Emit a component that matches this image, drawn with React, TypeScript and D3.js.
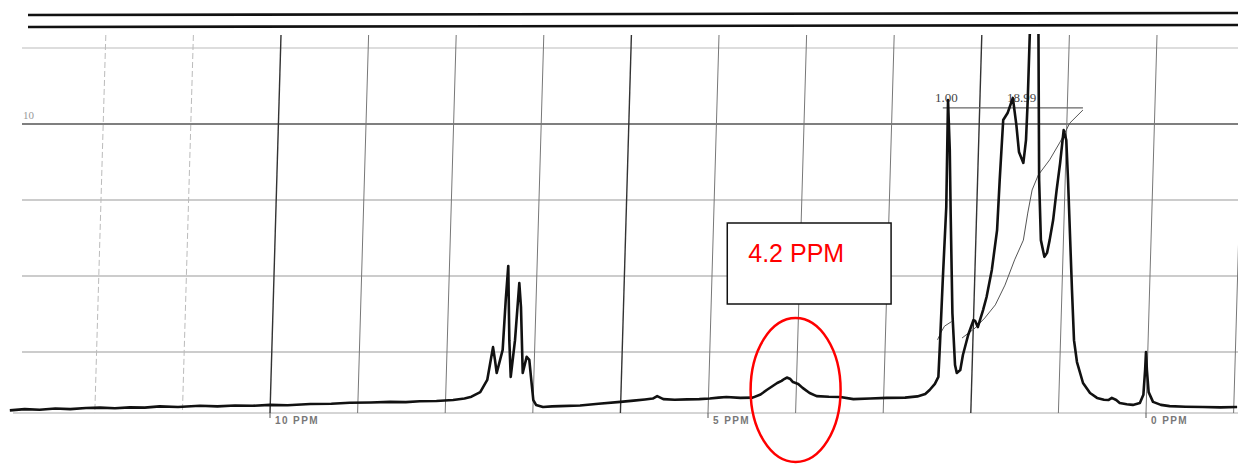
import React from 'react';
import * as d3 from 'd3';

// chemical shift (ppm) and signal height
const shiftPpm = [
  12.97, 12.8, 12.63, 12.45, 12.28, 12.1, 11.94, 11.77, 11.6, 11.43, 11.26, 11.05, 10.8, 10.6, 10.4, 10.2,
  10.0, 9.8, 9.54, 9.3, 9.09, 8.85, 8.63, 8.45, 8.29, 8.1, 7.91, 7.78, 7.7, 7.6, 7.52, 7.48, 7.454, 7.432,
  7.412, 7.344, 7.309, 7.28, 7.268, 7.252, 7.203, 7.154, 7.135, 7.115, 7.07, 7.04, 7.021, 6.994, 6.963,
  6.884, 6.78, 6.689, 6.46, 6.25, 6.0, 5.85, 5.72, 5.63, 5.58, 5.51, 5.38, 5.24, 5.1, 4.98, 4.88, 4.79,
  4.63, 4.49, 4.4, 4.33, 4.21, 4.16, 4.13, 4.1, 4.06, 4.03, 3.97, 3.92, 3.84, 3.76, 3.62, 3.49, 3.34, 3.15,
  2.96, 2.75, 2.61, 2.52, 2.47, 2.41, 2.37, 2.35, 2.32, 2.28, 2.26, 2.24, 2.23, 2.21, 2.18, 2.16, 2.12,
  2.09, 2.03, 1.97, 1.95, 1.92, 1.86, 1.82, 1.76, 1.7, 1.67, 1.63, 1.58, 1.52, 1.48, 1.45, 1.4, 1.37, 1.35,
  1.31, 1.27, 1.23, 1.22, 1.2, 1.16, 1.13, 1.1, 1.06, 1.02, 0.98, 0.94, 0.91, 0.89, 0.845, 0.822, 0.788,
  0.719, 0.639, 0.559, 0.48, 0.43, 0.39, 0.34, 0.3, 0.22, 0.15, 0.07, 0.03, 0.01, 0.0, -0.01, -0.03, -0.08,
  -0.17, -0.27, -0.45, -0.65, -0.85, -1.04,
];
const signal = [
  0.58, 0.62, 0.6, 0.64, 0.62, 0.66, 0.67, 0.65, 0.68, 0.67, 0.71, 0.69, 0.73, 0.71, 0.74, 0.73,
  0.76, 0.75, 0.79, 0.8, 0.83, 0.84, 0.86, 0.85, 0.88, 0.89, 0.92, 0.97, 1.03, 1.18, 1.58, 2.24, 2.66, 2.24,
  1.81, 2.57, 4.21, 5.33, 2.89, 1.68, 2.89, 4.77, 3.98, 1.81, 2.34, 2.24, 1.68, 0.92, 0.76,
  0.69, 0.71, 0.72, 0.74, 0.8, 0.86, 0.9, 0.94, 0.97, 1.05, 0.95, 0.93, 0.94, 0.95, 0.97, 1.0, 1.02,
  0.99, 1.0, 1.1, 1.25, 1.48, 1.55, 1.61, 1.66, 1.61, 1.51, 1.45, 1.32, 1.15, 1.05, 1.03, 1.02, 0.95, 0.97,
  0.99, 1.0, 1.04, 1.12, 1.25, 1.45, 1.68, 2.89, 4.87, 7.27, 10.79, 9.14, 7.07, 3.78, 2.07, 1.81, 1.91,
  2.4, 3.06, 3.55, 3.52, 3.32, 3.88, 4.31, 5.2, 6.51, 8.16, 10.13, 10.36, 10.86, 9.97, 9.08, 8.72, 9.47, 10.79,
  14.5, 15.2, 14.5, 8.16, 6.18, 5.63, 5.76, 6.18, 6.84, 7.83, 8.72, 9.8, 9.47, 8.16, 4.54, 2.89, 2.17,
  1.48, 1.15, 0.99, 0.93, 0.92, 0.99, 0.92, 0.82, 0.78, 0.76, 0.82, 1.09, 1.91, 2.5, 1.91, 1.18, 0.86,
  0.76, 0.72, 0.7, 0.69, 0.68, 0.69,
];

// integral traces
const integralAPpm = [2.38, 2.34, 2.3, 2.22];
const integralAVal = [2.9, 3.15, 3.35, 3.5];
const integralBPpm = [2.1, 1.95, 1.84, 1.72, 1.61, 1.5, 1.4, 1.35, 1.3, 1.23, 1.1, 0.98, 0.87, 0.72];
const integralBVal = [2.96, 3.29, 3.62, 4.05, 4.7, 5.53, 6.18, 7.07, 7.83, 8.32, 8.82, 9.41, 10.03, 10.46];
const integralLevel = 10.53;
const integralSpan = [2.32, 0.72];
const integralLabels = ['1.00', '18.99'];
const integralLabelPpm = [2.28, 1.42];

const gridPpm = [12, 11, 10, 9, 8, 7, 6, 5, 4, 3, 2, 1, 0, -1];
const darkGridPpm = [10, 6, 2];
const gridLevels = [2.5, 5, 7.5, 10, 12.5];
const axisTicks = [10, 5, 0];
const axisLabels = ['10 PPM', '5 PPM', '0 PPM'];
const yTickLabel = '10';

const note = '4.2 PPM';
const noteBox = [4.78, 2.91];
const circlePpm = 4.0;
const circleVal = 1.25;

export default function App() {
  const width = 1238;
  const height = 464;
  const top = 35;
  const bottom = 413;
  const skew = 11;

  const x = d3.scaleLinear().domain([0, 10]).range([1146, 270]);
  const y = d3.scaleLinear().domain([0, 10]).range([428, 124]);

  const pts = shiftPpm.map((p, i) => [p, signal[i]] as [number, number]);
  const line = d3.line<[number, number]>().x(d => x(d[0])).y(d => y(d[1]));
  const intA = integralAPpm.map((p, i) => [p, integralAVal[i]] as [number, number]);
  const intB = integralBPpm.map((p, i) => [p, integralBVal[i]] as [number, number]);

  return (
    <svg width={width} height={height} style={{ position: 'absolute', left: 0, top: 0, background: '#fff' }}>
      <defs>
        <clipPath id="plot">
          <rect x={0} y={top - 1} width={width} height={height} />
        </clipPath>
      </defs>

      {/* double rule at the top of the sheet */}
      <line x1={28} y1={15} x2={width} y2={13} stroke="#111" strokeWidth={2.6} />
      <line x1={28} y1={27} x2={width} y2={25} stroke="#111" strokeWidth={2.6} />

      {/* horizontal grid */}
      {gridLevels.map(v => (
        <line key={v} x1={22} x2={width} y1={y(v)} y2={y(v)}
          stroke={v === 10 ? '#555' : v === 12.5 ? '#bbb' : '#999'} strokeWidth={v === 10 ? 1.3 : 1} />
      ))}
      <line x1={13} x2={width} y1={bottom} y2={bottom} stroke="#aaa" strokeWidth={1} />
      <text x={23} y={y(10) - 5} fontFamily="Liberation Serif" fontSize={11} fill="#999">{yTickLabel}</text>

      {/* vertical grid, slightly skewed like the scan */}
      {gridPpm.map(p => (
        <line key={p} x1={x(p) + skew} y1={top} x2={x(p)} y2={bottom}
          stroke={darkGridPpm.includes(p) ? '#333' : p > 10.5 ? '#bbb' : '#777'}
          strokeWidth={darkGridPpm.includes(p) ? 1.4 : 1}
          strokeDasharray={p > 10.5 ? '6 3' : undefined} />
      ))}
      {axisTicks.map((p, i) => (
        <g key={p}>
          <line x1={x(p)} x2={x(p)} y1={bottom} y2={bottom + 5} stroke="#555" strokeWidth={1} />
          <text x={x(p) + 5} y={bottom + 11} fontFamily="Liberation Sans" fontSize={10} fontWeight="bold"
            letterSpacing={1.4} fill="#777">{axisLabels[i]}</text>
        </g>
      ))}

      {/* integrals */}
      <line x1={x(integralSpan[0])} x2={x(integralSpan[1])} y1={y(integralLevel)} y2={y(integralLevel)}
        stroke="#666" strokeWidth={1.2} />
      <path d={line(intA) || ''} fill="none" stroke="#555" strokeWidth={1} />
      <path d={line(intB) || ''} fill="none" stroke="#555" strokeWidth={1} />
      {integralLabels.map((t, i) => (
        <text key={t} x={x(integralLabelPpm[i])} y={y(integralLevel) - 6} textAnchor="middle"
          fontFamily="Liberation Serif" fontSize={13} fill="#444">{t}</text>
      ))}

      {/* spectrum */}
      <path d={line(pts) || ''} fill="none" stroke="#111" strokeWidth={2.6}
        strokeLinejoin="round" clipPath="url(#plot)" />

      {/* annotation */}
      <rect x={x(noteBox[0])} y={223} width={x(noteBox[1]) - x(noteBox[0])} height={81}
        fill="#fff" stroke="#111" strokeWidth={1.5} />
      <text x={x(noteBox[0]) + 21} y={262} fontFamily="Liberation Sans" fontSize={25} fill="#ff0000">{note}</text>
      <ellipse cx={x(circlePpm)} cy={y(circleVal)} rx={45} ry={72} fill="none" stroke="#ff0000" strokeWidth={2.5} />
    </svg>
  );
}
